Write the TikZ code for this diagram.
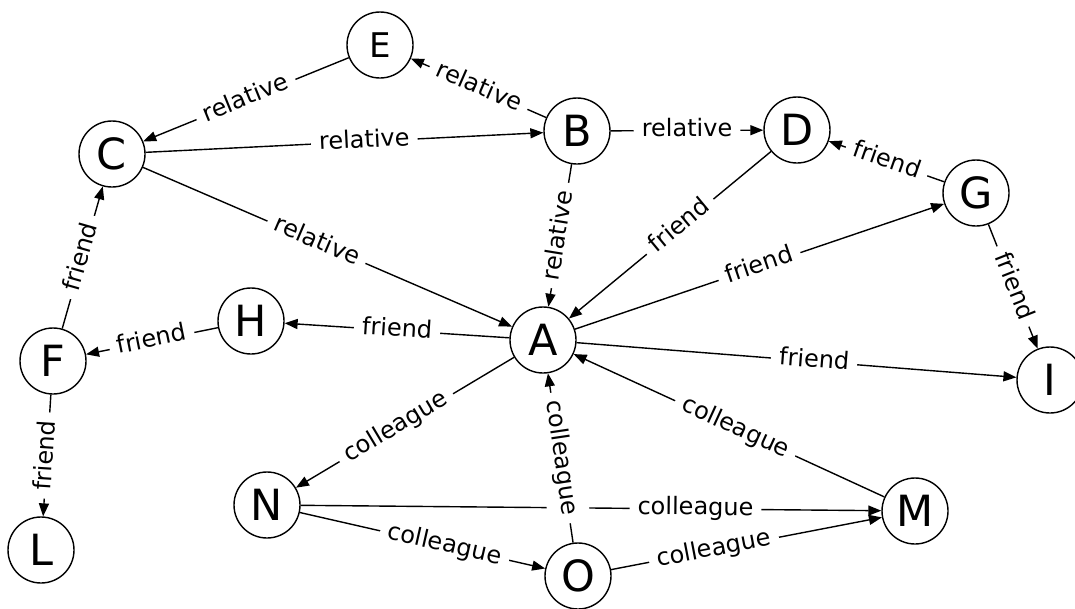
\documentclass[tikz,border=0pt]{standalone}
\usepackage{fontspec}
\setmainfont{DejaVu Sans}
\usetikzlibrary{arrows.meta}
\begin{document}
\begin{tikzpicture}[x=1pt,y=-1pt,
  vertex/.style={circle,draw,line width=1.4pt,minimum size=66pt,inner sep=0pt,
    font=\fontsize{43}{43}\selectfont},
  small vertex/.style={vertex,font=\fontsize{34}{34}\selectfont},
  link/.style={line width=1.4pt,-{Triangle[length=13pt,width=10pt]}},
  lbl/.style={sloped,fill=white,inner xsep=8pt,inner ysep=9pt,
    text height=18pt,text depth=6pt,
    font=\fontsize{24}{24}\selectfont}]
\useasboundingbox (0,0) rectangle (1075,608);

% people
\node[small vertex] (E) at (380,45) {E};
\node[vertex] (B) at (577,131) {B};
\node[vertex] (D) at (797,130) {D};
\node[vertex] (C) at (112,154) {C};
\node[vertex] (G) at (976,193) {G};
\node[vertex] (A) at (543,340) {A};
\node[vertex] (H) at (251,321) {H};
\node[vertex] (F) at (53,361) {F};
\node[vertex] (I) at (1050,380) {I};
\node[vertex] (N) at (267,505) {N};
\node[vertex] (M) at (915,511) {M};
\node[vertex] (O) at (578,576) {O};
\node[vertex] (L) at (41,550) {L};

% relatives
\draw[link] (E) -- node[lbl]{relative} (C);
\draw[link] (B) -- node[lbl]{relative} (E);
\draw[link] (C) -- node[lbl,pos=0.55]{relative} (B);
\draw[link] (B) -- node[lbl]{relative} (D);
\draw[link] (C) -- node[lbl,pos=0.47]{relative} (A);
\draw[link] (B) -- node[lbl]{relative} (A);

% friends
\draw[link] (D) -- node[lbl,pos=0.45]{friend} (A);
\draw[link] (G) -- node[lbl]{friend} (D);
\draw[link] (A) -- node[lbl]{friend} (G);
\draw[link] (G) -- node[lbl]{friend} (I);
\draw[link] (A) -- node[lbl]{friend} (H);
\draw[link] (H) -- node[lbl]{friend} (F);
\draw[link] (F) -- node[lbl]{friend} (C);
\draw[link] (F) -- node[lbl]{friend} (L);
\draw[link] (A) -- node[lbl,pos=0.54]{friend} (I);

% colleagues
\draw[link] (A) -- node[lbl,pos=0.54]{colleague} (N);
\draw[link] (M) -- node[lbl,pos=0.48]{colleague} (A);
\draw[link] (N) -- node[lbl,pos=0.68]{colleague} (M);
\draw[link] (N) -- node[lbl,pos=0.59]{colleague} (O);
\draw[link] (O) -- node[lbl,pos=0.38]{colleague} (M);
\draw[link] (O) -- node[lbl]{colleague} (A);
\end{tikzpicture}
\end{document}
